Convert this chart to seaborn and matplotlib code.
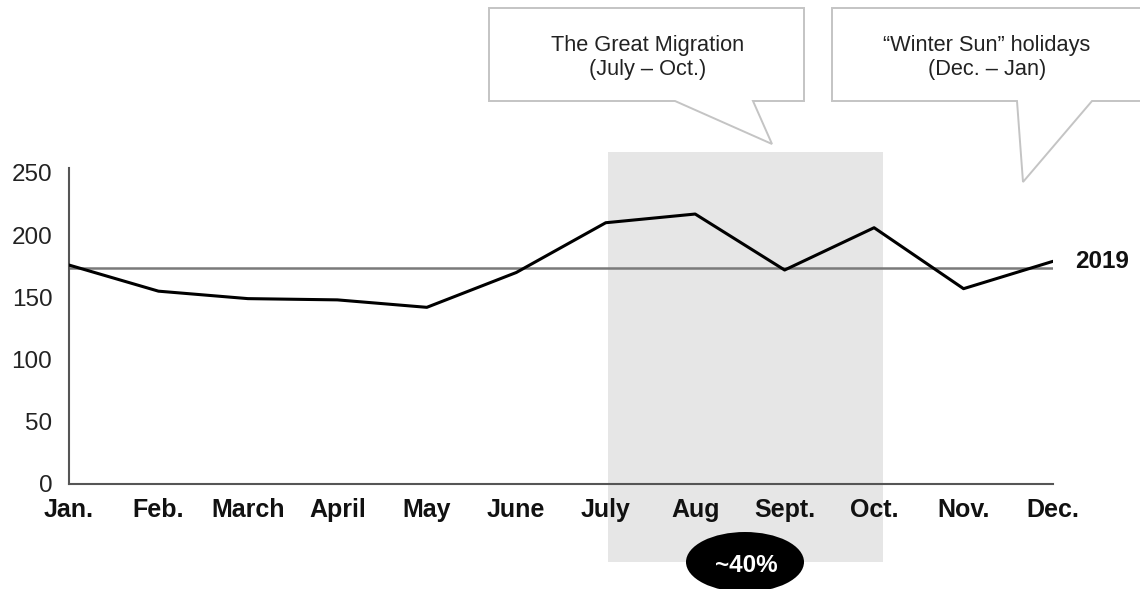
import matplotlib
matplotlib.use("Agg")
import matplotlib.pyplot as plt
from matplotlib.patches import Polygon, Ellipse, Rectangle
import numpy as np
import pandas as pd
import seaborn as sns

# ---- data -------------------------------------------------------------
months = ["Jan.", "Feb.", "March", "April", "May", "June",
          "July", "Aug", "Sept.", "Oct.", "Nov.", "Dec."]
monthly_values = [176, 155, 149, 148, 142, 170, 210, 217, 172, 206, 157, 179]
baseline_2019 = 174
y_ticks = [0, 50, 100, 150, 200, 250]
season_start, season_end = "July", "Oct."

df = pd.DataFrame({"month_idx": np.arange(len(months)), "value": monthly_values})

# ---- figure -----------------------------------------------------------
sns.set_theme(style="white")
plt.rcParams["font.family"] = ["Liberation Sans", "DejaVu Sans"]

W, H = 1140, 589
fig = plt.figure(figsize=(W / 100, H / 100), dpi=100)
fig.patch.set_facecolor("white")


def fx(px):
    return px / W


def fy(py):
    return 1 - py / H


ax = fig.add_axes([fx(69), fy(484), fx(1053) - fx(69), (484 - 168) / H])
ax.set_facecolor("none")

# shaded migration season, running beyond the axes down to the badge
x0 = months.index(season_start) + 0.03
x1 = months.index(season_end) + 0.1
shade = Rectangle((x0, -63), x1 - x0, 267 + 63, facecolor="#e6e6e6",
                  edgecolor="none", zorder=0, clip_on=False)
ax.add_patch(shade)

# 2019 reference line
ax.plot([0, len(months) - 1], [baseline_2019, baseline_2019],
        color="#7a7a7a", lw=1.8, zorder=2)
ax.annotate("2019", xy=(len(months) - 1, baseline_2019), xytext=(16, 4),
            textcoords="offset points", ha="left", va="center",
            fontsize=17.5, fontweight="bold", color="#111111")

# monthly series
sns.lineplot(data=df, x="month_idx", y="value", color="black", lw=2.2,
             ax=ax, zorder=3)

ax.set_xlim(0, len(months) - 1)
ax.set_ylim(0, 254)
ax.set_xticks(range(len(months)))
ax.set_xticklabels(months, fontsize=18, fontweight="bold", color="#111111")
ax.set_yticks(y_ticks)
ax.set_yticklabels([str(t) for t in y_ticks], fontsize=17.5, color="#222222")
ax.tick_params(axis="x", length=0, pad=10)
ax.tick_params(axis="y", length=0, pad=12)
ax.set_xlabel("")
ax.set_ylabel("")
for side in ["top", "right"]:
    ax.spines[side].set_visible(False)
for side in ["left", "bottom"]:
    ax.spines[side].set_color("#555555")
    ax.spines[side].set_linewidth(1.5)

# ---- callout bubbles ---------------------------------------------------
def bubble(pts):
    poly = Polygon([(fx(x), fy(y)) for x, y in pts], closed=True,
                   transform=fig.transFigure, facecolor="white",
                   edgecolor="#c4c4c4", lw=1.4, zorder=5)
    fig.add_artist(poly)


bubble([(489, 8), (804, 8), (804, 101), (753, 101), (772, 144),
        (675, 101), (489, 101)])
fig.text(fx(648), fy(45), "The Great Migration", ha="center", va="center",
         fontsize=15.7, color="#222222", zorder=6)
fig.text(fx(648), fy(70), "(July \u2013 Oct.)", ha="center", va="center",
         fontsize=15.7, color="#222222", zorder=6)

bubble([(832, 8), (1150, 8), (1150, 101), (1092, 101), (1023, 182),
        (1017, 101), (832, 101)])
fig.text(fx(987), fy(45), "\u201cWinter Sun\u201d holidays", ha="center",
         va="center", fontsize=15.7, color="#222222", zorder=6)
fig.text(fx(987), fy(70), "(Dec. \u2013 Jan)", ha="center", va="center",
         fontsize=15.7, color="#222222", zorder=6)

# ---- share badge -------------------------------------------------------
badge = Ellipse((fx(745), fy(562)), 118 / W, 60 / H, transform=fig.transFigure,
                facecolor="black", edgecolor="none", zorder=6)
fig.add_artist(badge)
fig.text(fx(746), fy(565), "~40%", ha="center", va="center", fontsize=17.5,
         fontweight="bold", color="white", zorder=7)

fig.savefig("out.png", dpi=100, facecolor="white")
